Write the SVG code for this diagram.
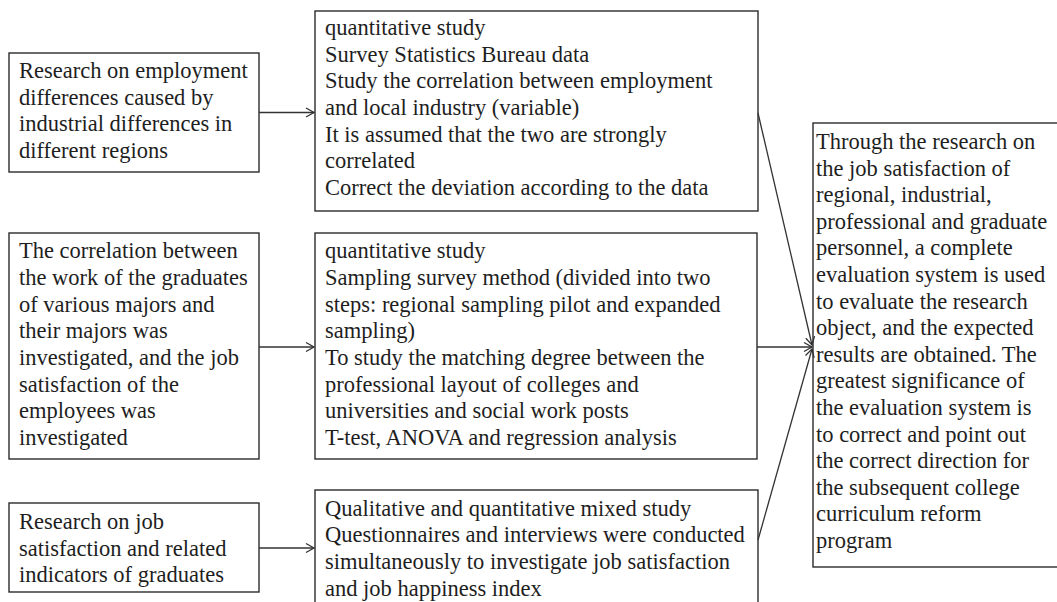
<svg xmlns="http://www.w3.org/2000/svg" width="1057" height="602" viewBox="0 0 1057 602">
<style>
.box{fill:#ffffff;stroke:#2b2b2b;stroke-width:1.4}
.t{font-family:"Liberation Serif","Times New Roman",serif;font-size:22.5px;fill:#1e1e1e}
.c{stroke:#333333;stroke-width:1.3;fill:none}
</style>
<defs>
<marker id="ah" markerWidth="12" markerHeight="12" refX="10" refY="6" orient="auto" markerUnits="userSpaceOnUse">
<path d="M2,1.5 L10,6 L2,10.5" fill="none" stroke="#333333" stroke-width="1.3"/>
</marker>
</defs>
<rect width="1057" height="602" fill="#ffffff"/>

<g id="left1">
<rect class="box" x="9" y="53" width="250" height="119"/>
<text class="t" x="19" y="78">Research on employment</text>
<text class="t" x="19" y="104.7">differences caused by</text>
<text class="t" x="19" y="131.3">industrial differences in</text>
<text class="t" x="19" y="158">different regions</text>
</g>

<g id="left2">
<rect class="box" x="9" y="233" width="250" height="226"/>
<text class="t" x="19" y="258.3">The correlation between</text>
<text class="t" x="19" y="285">the work of the graduates</text>
<text class="t" x="19" y="311.7">of various majors and</text>
<text class="t" x="19" y="338.3">their majors was</text>
<text class="t" x="19" y="365">investigated, and the job</text>
<text class="t" x="19" y="391.7">satisfaction of the</text>
<text class="t" x="19" y="418.3">employees was</text>
<text class="t" x="19" y="445">investigated</text>
</g>

<g id="left3">
<rect class="box" x="9" y="503" width="250" height="89"/>
<text class="t" x="19" y="529">Research on job</text>
<text class="t" x="19" y="555.7">satisfaction and related</text>
<text class="t" x="19" y="582.3">indicators of graduates</text>
</g>

<g id="mid1">
<rect class="box" x="315" y="11" width="443" height="200"/>
<text class="t" x="325" y="35">quantitative study</text>
<text class="t" x="325" y="61.7">Survey Statistics Bureau data</text>
<text class="t" x="325" y="88.3">Study the correlation between employment</text>
<text class="t" x="325" y="115">and local industry (variable)</text>
<text class="t" x="325" y="141.7">It is assumed that the two are strongly</text>
<text class="t" x="325" y="168.3">correlated</text>
<text class="t" x="325" y="195">Correct the deviation according to the data</text>
</g>

<g id="mid2">
<rect class="box" x="315" y="233" width="442" height="226"/>
<text class="t" x="325" y="258.3">quantitative study</text>
<text class="t" x="325" y="285">Sampling survey method (divided into two</text>
<text class="t" x="325" y="311.7">steps: regional sampling pilot and expanded</text>
<text class="t" x="325" y="338.3">sampling)</text>
<text class="t" x="325" y="365">To study the matching degree between the</text>
<text class="t" x="325" y="391.7">professional layout of colleges and</text>
<text class="t" x="325" y="418.3">universities and social work posts</text>
<text class="t" x="325" y="445">T-test, ANOVA and regression analysis</text>
</g>

<g id="mid3">
<rect class="box" x="315" y="490" width="443" height="130"/>
<text class="t" x="325" y="515.5">Qualitative and quantitative mixed study</text>
<text class="t" x="325" y="542.2">Questionnaires and interviews were conducted</text>
<text class="t" x="325" y="568.8">simultaneously to investigate job satisfaction</text>
<text class="t" x="325" y="595.5">and job happiness index</text>
</g>

<g id="right">
<rect class="box" x="813" y="123" width="260" height="444"/>
<text class="t" x="816" y="149">Through the research on</text>
<text class="t" x="816" y="175.6">the job satisfaction of</text>
<text class="t" x="816" y="202.2">regional, industrial,</text>
<text class="t" x="816" y="228.8">professional and graduate</text>
<text class="t" x="816" y="255.4">personnel, a complete</text>
<text class="t" x="816" y="282">evaluation system is used</text>
<text class="t" x="816" y="308.6">to evaluate the research</text>
<text class="t" x="816" y="335.2">object, and the expected</text>
<text class="t" x="816" y="361.8">results are obtained. The</text>
<text class="t" x="816" y="388.4">greatest significance of</text>
<text class="t" x="816" y="415">the evaluation system is</text>
<text class="t" x="816" y="441.6">to correct and point out</text>
<text class="t" x="816" y="468.2">the correct direction for</text>
<text class="t" x="816" y="494.8">the subsequent college</text>
<text class="t" x="816" y="521.4">curriculum reform</text>
<text class="t" x="816" y="548">program</text>
</g>

<g id="connectors">
<line class="c" x1="259" y1="112.5" x2="314" y2="112.5" marker-end="url(#ah)"/>
<line class="c" x1="259" y1="347" x2="314" y2="347" marker-end="url(#ah)"/>
<line class="c" x1="259" y1="548" x2="314" y2="548" marker-end="url(#ah)"/>
<line class="c" x1="758" y1="113" x2="812" y2="345" marker-end="url(#ah)"/>
<line class="c" x1="757" y1="347" x2="812" y2="347" marker-end="url(#ah)"/>
<line class="c" x1="758" y1="540" x2="812" y2="349" marker-end="url(#ah)"/>
</g>
</svg>
